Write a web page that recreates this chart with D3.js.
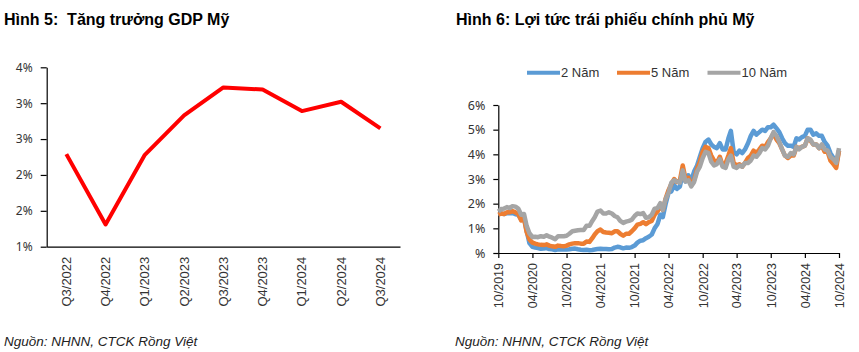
<!DOCTYPE html>
<html><head><meta charset="utf-8">
<script src="https://cdn.jsdelivr.net/npm/d3@7"></script>
<style>
html,body{margin:0;padding:0;background:#fff;}
svg{display:block;}
text{white-space:pre;}
</style></head>
<body>
<svg id="chart" width="859" height="352"></svg>
<script>
// ---------- Data: left chart (GDP growth) ----------
const gdpCategories = ["Q3/2022","Q4/2022","Q1/2023","Q2/2023","Q3/2023","Q4/2023","Q1/2024","Q2/2024","Q3/2024"];
const gdpValues = [2.29, 1.31, 2.28, 2.83, 3.22, 3.19, 2.89, 3.02, 2.65];
const gdpTicks = [1.0, 1.5, 2.0, 2.5, 3.0, 3.5];

// ---------- Data: right chart (US Treasury yields, semi-monthly from 10/2019) ----------
const yieldStart = "2019-10-01";
const yieldSeriesNames = ["2 Năm", "5 Năm", "10 Năm"];
const yield2Y = [
 1.60,1.60, 1.58,1.62, 1.61,1.62,
 1.57,1.55, 1.35,1.42, 0.90,0.40, 0.25,0.22, 0.20,0.17, 0.18,0.20, 0.16,0.15, 0.12,0.15, 0.14,0.14, 0.14,0.15, 0.17,0.18, 0.15,0.13,
 0.12,0.13, 0.11,0.12, 0.14,0.16, 0.17,0.16, 0.16,0.15, 0.16,0.22, 0.25,0.23, 0.19,0.22, 0.21,0.24, 0.30,0.42, 0.50,0.52, 0.60,0.66,
 0.75,1.00, 1.18,1.55, 1.45,1.98, 2.45,2.50, 2.75,2.60, 2.70,3.25, 2.90,3.15, 2.95,3.30, 3.55,3.90, 4.25,4.50, 4.60,4.40, 4.30,4.25,
 4.45,4.20, 4.20,4.65, 4.95,4.10, 4.00,4.15, 4.05,4.20, 4.45,4.75, 4.95,4.80, 4.90,5.00, 4.95,5.10, 5.10,5.20, 5.05,4.90, 4.65,4.45,
 4.35,4.35, 4.30,4.65, 4.60,4.70, 4.75,5.00, 5.00,4.80, 4.85,4.75, 4.75,4.50, 4.35,4.05, 3.85,3.60, 4.15
];
const yield5Y = [
 1.55,1.60, 1.58,1.65, 1.65,1.70,
 1.65,1.58, 1.32,1.40, 0.85,0.55, 0.42,0.38, 0.35,0.33, 0.32,0.35, 0.30,0.27, 0.25,0.30, 0.28,0.27, 0.30,0.35, 0.38,0.40, 0.40,0.38,
 0.38,0.47, 0.45,0.60, 0.75,0.88, 0.95,0.85, 0.83,0.82, 0.80,0.88, 0.88,0.78, 0.70,0.78, 0.78,0.88, 1.00,1.15, 1.18,1.25, 1.17,1.25,
 1.30,1.55, 1.68,1.92, 1.75,2.20, 2.55,2.80, 3.00,2.88, 2.95,3.55, 3.00,3.05, 2.75,2.95, 3.40,3.70, 4.10,4.30, 4.25,3.95, 3.75,3.65,
 3.90,3.55, 3.65,3.95, 4.25,3.65, 3.55,3.60, 3.50,3.65, 3.85,3.95, 4.15,4.05, 4.20,4.35, 4.30,4.50, 4.65,4.85, 4.60,4.45, 4.20,3.95,
 3.85,3.95, 3.95,4.30, 4.25,4.30, 4.35,4.65, 4.55,4.40, 4.40,4.25, 4.35,4.10, 4.10,3.75, 3.60,3.45, 4.15
];
const yield10Y = [
 1.68,1.78, 1.80,1.86, 1.82,1.90,
 1.88,1.80, 1.55,1.58, 1.10,0.80, 0.65,0.66, 0.64,0.68, 0.66,0.72, 0.66,0.62, 0.56,0.68, 0.68,0.68, 0.70,0.78, 0.88,0.90, 0.92,0.93,
 0.93,1.10, 1.10,1.30, 1.45,1.68, 1.72,1.60, 1.60,1.65, 1.60,1.50, 1.45,1.30, 1.22,1.27, 1.30,1.35, 1.50,1.60, 1.58,1.62, 1.43,1.45,
 1.55,1.80, 1.82,2.02, 1.75,2.18, 2.45,2.85, 2.95,2.90, 2.85,3.35, 2.90,2.95, 2.70,2.88, 3.30,3.50, 3.85,4.10, 4.05,3.70, 3.55,3.60,
 3.80,3.50, 3.45,3.80, 3.95,3.50, 3.45,3.55, 3.50,3.65, 3.65,3.75, 3.95,3.90, 4.05,4.25, 4.20,4.35, 4.65,4.90, 4.75,4.50, 4.20,3.95,
 3.90,4.05, 4.00,4.30, 4.20,4.30, 4.35,4.65, 4.60,4.40, 4.40,4.25, 4.40,4.20, 4.15,3.90, 3.80,3.65, 4.25
];
const yieldTicks = [0, 1, 2, 3, 4, 5, 6];
const dateTickLabels = ["10/2019","04/2020","10/2020","04/2021","10/2021","04/2022","10/2022","04/2023","10/2023","04/2024","10/2024"];

// ---------- Texts ----------
const titleLeft = "Hình 5:  Tăng trưởng GDP Mỹ";
const titleRight = "Hình 6: Lợi tức trái phiếu chính phủ Mỹ";
const sourceText = "Nguồn: NHNN, CTCK Rồng Việt";

const svg = d3.select("#chart");
const FONT_TXT = "'Liberation Sans', Arial, sans-serif";
const FONT_NUM = "'Noto Sans', 'Open Sans', sans-serif";

// Titles
svg.append("text").attr("x", 4).attr("y", 25).text(titleLeft)
  .attr("font-family", FONT_TXT).attr("font-weight", "bold").attr("font-size", 16).attr("fill", "#000");
svg.append("text").attr("x", 456).attr("y", 25).text(titleRight)
  .attr("font-family", FONT_TXT).attr("font-weight", "bold").attr("font-size", 16).attr("fill", "#000");

// Sources
[4, 455].forEach(x => {
  svg.append("text").attr("x", x).attr("y", 346).text(sourceText)
    .attr("font-family", FONT_TXT).attr("font-style", "italic").attr("font-size", 13.5).attr("fill", "#222");
});

// ---------- Left chart ----------
{
  const x = d3.scaleBand().domain(gdpCategories).range([46.7, 400]);
  const y = d3.scaleLinear().domain([1.0, 3.5]).range([246.7, 67.3]);
  const g = svg.append("g");

  const yAxis = d3.axisLeft(y).tickValues(gdpTicks).tickSize(6).tickSizeOuter(0)
    .tickFormat(v => Math.round(v) + "%");
  const ya = g.append("g").attr("transform", "translate(46.7,0)").call(yAxis);
  ya.select(".domain").attr("stroke", "#000").attr("stroke-width", 1.2);
  ya.selectAll(".tick line").attr("stroke", "#000").attr("stroke-width", 1.2);
  ya.selectAll(".tick text").attr("font-family", FONT_NUM).attr("font-size", 12).attr("fill", "#333").attr("x", -14);

  const xAxis = d3.axisBottom(x).tickSize(0).tickSizeOuter(0);
  const xa = g.append("g").attr("transform", "translate(0,246.7)").call(xAxis);
  xa.select(".domain").attr("stroke", "#000").attr("stroke-width", 1.2);
  xa.selectAll(".tick text")
    .attr("font-family", FONT_TXT).attr("font-size", 13).attr("fill", "#333")
    .attr("text-anchor", "end").attr("transform", "rotate(-90)")
    .attr("x", -10).attr("y", 0).attr("dy", "0.35em");

  const line = d3.line().x((d, i) => x(gdpCategories[i]) + x.bandwidth() / 2).y(d => y(d));
  g.append("path").datum(gdpValues).attr("d", line)
    .attr("fill", "none").attr("stroke", "#FF0000").attr("stroke-width", 4)
    .attr("stroke-linejoin", "round");
}

// ---------- Right chart ----------
{
  const parse = d3.timeParse("%Y-%m-%d");
  const start = parse(yieldStart);
  const n = yield2Y.length;
  const dates = d3.range(n).map(i => {
    const d = d3.timeMonth.offset(start, Math.floor(i / 2));
    return i % 2 ? d3.timeDay.offset(d, 15) : d;
  });
  const tickDates = dateTickLabels.map(s => d3.timeParse("%m/%Y")(s));

  const x = d3.scaleTime().domain([tickDates[0], tickDates[tickDates.length - 1]]).range([498.3, 839]);
  const y = d3.scaleLinear().domain([0, 6]).range([253, 105]);
  const g = svg.append("g");

  const yAxis = d3.axisLeft(y).tickValues(yieldTicks).tickSize(5).tickSizeOuter(0)
    .tickFormat(v => v === 0 ? "%" : v + "%");
  const ya = g.append("g").attr("transform", "translate(498.3,0)").call(yAxis);
  ya.select(".domain").attr("stroke", "#000").attr("stroke-width", 1.2);
  ya.selectAll(".tick line").attr("stroke", "#000").attr("stroke-width", 1.2);
  ya.selectAll(".tick text").attr("font-family", FONT_NUM).attr("font-size", 12.5).attr("fill", "#333").attr("x", -13);

  const xAxis = d3.axisBottom(x).tickValues(tickDates).tickSize(5).tickSizeOuter(0)
    .tickFormat((d, i) => dateTickLabels[i]);
  const xa = g.append("g").attr("transform", "translate(0,253)").call(xAxis);
  xa.select(".domain").attr("stroke", "#000").attr("stroke-width", 1.2);
  xa.selectAll(".tick line").attr("stroke", "#000").attr("stroke-width", 1.2);
  xa.selectAll(".tick text")
    .attr("font-family", FONT_TXT).attr("font-size", 12.5).attr("fill", "#333")
    .attr("text-anchor", "end").attr("transform", "rotate(-90)")
    .attr("x", -10).attr("y", 0).attr("dy", "0.35em");

  const colors = ["#5B9BD5", "#ED7D31", "#A5A5A5"];
  const series = [yield2Y, yield5Y, yield10Y];
  const line = d3.line().x((d, i) => x(dates[i])).y(d => y(d));
  series.forEach((s, k) => {
    g.append("path").datum(s).attr("d", line)
      .attr("fill", "none").attr("stroke", colors[k]).attr("stroke-width", 4.5)
      .attr("stroke-linejoin", "round");
  });

  // Legend
  const legX = [527, 617, 707.5];
  const leg = g.append("g");
  yieldSeriesNames.forEach((name, k) => {
    leg.append("line").attr("x1", legX[k]).attr("x2", legX[k] + 33).attr("y1", 72.7).attr("y2", 72.7)
      .attr("stroke", colors[k]).attr("stroke-width", 4);
    leg.append("text").attr("x", legX[k] + 34).attr("y", 77).text(name)
      .attr("font-family", FONT_TXT).attr("font-size", 13).attr("fill", "#333");
  });
}
</script>
</body></html>
